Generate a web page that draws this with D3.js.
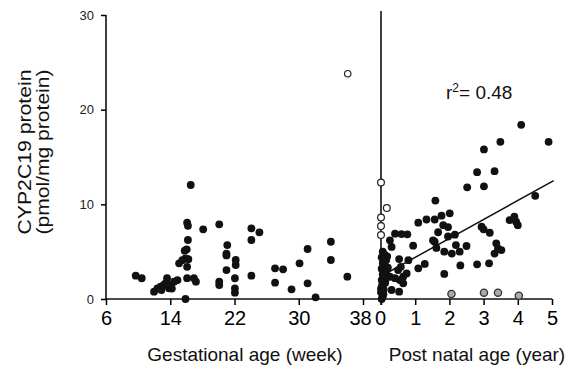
<!DOCTYPE html>
<html>
<head>
<meta charset="UTF-8">
<title>CYP2C19 protein vs age</title>
<script src="https://d3js.org/d3.v7.min.js"></script>
<style>
  body { margin: 0; background: #fff; }
  text { font-family: "Liberation Sans", Arial, sans-serif; }
</style>
</head>
<body>
<script>
var w = 577, h = 374;

// gestational age (week), protein
var fetalWeeks = [9.7,10.45,11.98,12.4,12.8,13.2,13.6,13.4,13.85,14.05,14.47,14.9,14.2,12.9,15.9,15.1,15.5,15.9,16.1,16.95,17.2,16.55,16.1,16.2,16.2,16.05,15.8,16.25,16.1,18.1,20.1,20.1,20.1,21.1,21.0,21.0,21.0,22.15,22.15,22.05,22.05,22.05,24.1,24.1,25.1,24.1,27.05,28.05,27.05,29.1,30.1,31.1,31.1,32.1,34.0,34.0,36.05];
var fetalProtein = [2.46,2.19,0.77,1.13,1.3,1.48,2.19,1.66,1.13,1.48,1.83,2.0,1.1,0.95,0,3.77,4.1,4.3,2.2,2.2,1.83,12.04,8.06,7.74,6.23,5.25,5.1,4.2,3.4,7.36,7.89,1.83,1.48,5.7,4.8,4.6,3.06,4.12,3.59,2.19,1.13,0.67,7.47,6.23,7.04,2.46,3.24,3.13,1.72,1.02,3.77,5.28,1.66,0.18,6.05,4.12,2.36];
var fetalOpenWeeks = [36.1];
var fetalOpenProtein = [23.8];

// post natal age (year), protein
var postYears = [0.02,0.05,0.0,0.08,0.03,0.12,0.02,0.1,0.05,0.15,0.02,0.1,0.05,0.15,0.02,0.1,0.05,0.18,0.2,0.0,0.07,0.13,
  0.26,0.41,0.6,0.77,0.31,0.53,0.8,0.58,0.26,0.41,0.55,0.65,0.75,0.5,0.65,0.31,0.53,0.94,1.09,1.28,1.52,1.09,1.33,1.57,1.77,1.59,2.01,1.82,1.96,1.67,2.16,1.96,1.57,1.62,1.85,2.07,2.3,2.5,2.19,2.32,1.85,2.81,3.16,2.94,3.0,3.18,3.37,3.42,3.32,3.52,3.76,3.9,3.95,4.0,4.51,2.52,3.01,2.81,3.32,3.01,3.49,4.9,4.1];
var postProtein = [0.0,0.3,0.7,1.0,1.4,1.7,2.0,2.3,2.6,2.9,3.2,3.5,3.8,4.1,4.4,4.7,5.0,4.5,3.3,1.1,0.5,2.0,
  6.2,6.9,6.86,6.83,5.5,4.22,4.1,3.4,2.35,2.2,2.0,2.35,2.7,3.06,1.66,0.95,0.77,5.63,3.24,3.7,6.2,8.06,8.4,8.4,8.8,10.4,9.05,7.8,7.6,7.05,6.8,6.6,6.05,5.4,5.0,4.8,5.0,5.6,5.7,3.55,2.65,3.66,3.77,7.63,7.36,7.0,5.88,5.35,4.8,5.17,8.34,8.7,8.16,7.8,10.9,11.8,11.9,13.4,13.5,15.8,16.6,16.6,18.4];
var postOpenYears = [0,0.17,0,0,0];
var postOpenProtein = [12.3,9.6,8.6,7.7,6.76];
var postGreyYears = [2.06,3.01,3.42,4.03];
var postGreyProtein = [0.53,0.67,0.67,0.35];

// regression line (post natal)
var fitYears = [0, 5.05];
var fitProtein = [2.4, 12.5];

var yTicks = [0, 10, 20, 30];
var weekTicks = [6, 14, 22, 30, 38];
var yearTicks = [0, 1, 2, 3, 4, 5];

var svg = d3.select("body").append("svg").attr("width", w).attr("height", h);

var y = d3.scaleLinear().domain([0, 30]).range([299, 15]);
var xWeek = d3.scaleLinear().domain([6, 38]).range([106, 363]);
var xYear = d3.scaleLinear().domain([0, 5]).range([381, 552]);

var font = "Liberation Sans, Arial, sans-serif";

// base line of x axis
svg.append("line").attr("x1", 106).attr("x2", 552).attr("y1", 299).attr("y2", 299)
  .attr("stroke", "#111").attr("stroke-width", 1.5);

// y axis
var yAxis = svg.append("g").attr("transform", "translate(106,0)")
  .call(d3.axisLeft(y).tickValues(yTicks).tickSize(5).tickPadding(7));
yAxis.select(".domain").attr("stroke-width", 1.5).attr("d", "M0," + y(30) + "V" + y(0));
yAxis.selectAll("line").attr("stroke-width", 1.5);
yAxis.selectAll("text").attr("font-size", "13px").attr("fill", "#222").style("font-family", font);

// gestational axis
var gAx = svg.append("g").attr("transform", "translate(0,299)")
  .call(d3.axisBottom(xWeek).tickValues(weekTicks).tickSize(6).tickPadding(6).tickFormat(d3.format("d")));
gAx.select(".domain").remove();
gAx.selectAll("line").attr("stroke-width", 1.5);
gAx.selectAll("text").attr("font-size", "20px").attr("fill", "#000").style("font-family", font);
gAx.selectAll("text").filter(function(d){ return d == 38; }).attr("dx", "-3");

// post natal axis
var pAx = svg.append("g").attr("transform", "translate(0,299)")
  .call(d3.axisBottom(xYear).tickValues(yearTicks).tickSize(6).tickPadding(6).tickFormat(d3.format("d")));
pAx.select(".domain").remove();
pAx.selectAll("line").attr("stroke-width", 1.5);
pAx.selectAll("text").attr("font-size", "20px").attr("fill", "#000").style("font-family", font);
pAx.selectAll("text").filter(function(d){ return d == 0; }).attr("dx", "-1");

// vertical divider at birth
svg.append("line").attr("x1", xYear(0)).attr("x2", xYear(0)).attr("y1", 11).attr("y2", 305)
  .attr("stroke", "#111").attr("stroke-width", 1.6);

// regression line
svg.append("line")
  .attr("x1", xYear(fitYears[0])).attr("y1", y(fitProtein[0]))
  .attr("x2", xYear(fitYears[1])).attr("y2", y(fitProtein[1]))
  .attr("stroke", "#111").attr("stroke-width", 1.5);

var r = 3.9;

// filled fetal
svg.append("g").selectAll("circle").data(fetalWeeks).enter().append("circle")
  .attr("cx", function(d){ return xWeek(d); })
  .attr("cy", function(d, i){ return y(fetalProtein[i]); })
  .attr("r", r).attr("fill", "#111");

// filled post natal
svg.append("g").selectAll("circle").data(postYears).enter().append("circle")
  .attr("cx", function(d){ return xYear(d); })
  .attr("cy", function(d, i){ return y(postProtein[i]); })
  .attr("r", r).attr("fill", "#111");

// open circles
svg.append("g").selectAll("circle").data(fetalOpenWeeks).enter().append("circle")
  .attr("cx", function(d){ return xWeek(d); })
  .attr("cy", function(d, i){ return y(fetalOpenProtein[i]); })
  .attr("r", 3.2).attr("fill", "#fff").attr("stroke", "#222").attr("stroke-width", 1.2);

svg.append("g").selectAll("circle").data(postOpenYears).enter().append("circle")
  .attr("cx", function(d){ return xYear(d); })
  .attr("cy", function(d, i){ return y(postOpenProtein[i]); })
  .attr("r", 3.4).attr("fill", "#fff").attr("stroke", "#222").attr("stroke-width", 1.2);

// grey circles
svg.append("g").selectAll("circle").data(postGreyYears).enter().append("circle")
  .attr("cx", function(d){ return xYear(d); })
  .attr("cy", function(d, i){ return y(postGreyProtein[i]); })
  .attr("r", 3.6).attr("fill", "#aaa").attr("stroke", "#333").attr("stroke-width", 1.3);

// r squared
var rt = svg.append("text").attr("x", 446).attr("y", 99).attr("font-size", "19px").attr("fill", "#111");
rt.append("tspan").text("r");
rt.append("tspan").text("2").attr("font-size", "12px").attr("dy", "-7");
rt.append("tspan").text("= 0.48").attr("dy", "7");

// axis titles
svg.append("text").attr("x", 245).attr("y", 361).attr("text-anchor", "middle")
  .attr("font-size", "19px").attr("fill", "#111").text("Gestational age (week)");
svg.append("text").attr("x", 477).attr("y", 361).attr("text-anchor", "middle")
  .attr("font-size", "19px").attr("fill", "#111").text("Post natal age (year)");

var yt = svg.append("text").attr("transform", "translate(0,152) rotate(-90)")
  .attr("text-anchor", "middle").attr("font-size", "19px").attr("fill", "#111");
yt.append("tspan").attr("x", 0).attr("y", 31).attr("textLength", 165).attr("lengthAdjust", "spacingAndGlyphs").text("CYP2C19 protein");
yt.append("tspan").attr("x", 0).attr("y", 49).attr("textLength", 165).attr("lengthAdjust", "spacingAndGlyphs").text("(pmol/mg protein)");
</script>
</body>
</html>
